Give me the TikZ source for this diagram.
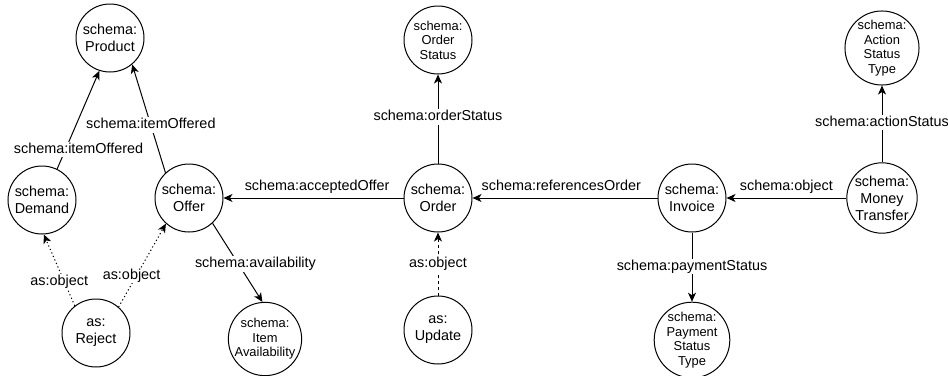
\documentclass[tikz,border=0pt]{standalone}
\usepackage{fontspec}
\setmainfont{Liberation Sans}
\usetikzlibrary{arrows.meta}
\tikzset{
  x=1pt, y=-1pt,
  cls/.style={circle, draw, line width=1pt, minimum size=68pt, inner sep=0pt,
    align=center, font=\fontsize{14.4}{17}\selectfont},
  clsmall/.style={cls, font=\fontsize{12.9}{14.6}\selectfont},
  rel/.style={line width=1pt, -{Stealth[length=9pt, width=8pt, inset=2.5pt]}},
  dotrel/.style={rel, dash pattern=on 1.2pt off 2.6pt},
  dashrel/.style={rel, dash pattern=on 3pt off 3pt},
  lbl/.style={font=\fontsize{14.4}{17}\selectfont, fill=white, inner sep=1pt,
    text height=10.5pt, text depth=3pt},
  lblabove/.style={lbl, fill=none, inner sep=0pt, anchor=south, yshift=4pt},
}
\begin{document}
\begin{tikzpicture}
\useasboundingbox (0,0) rectangle (948,375);

% classes
\node[cls]      (product) at (110,38)  {schema:\\Product};
\node[cls]      (demand)  at (42,200)  {schema:\\Demand};
\node[cls]      (offer)   at (189,198) {schema:\\Offer};
\node[cls]      (reject)  at (96,333)  {as:\\Reject};
\node[clsmall]  (avail)   at (265,339) {schema:\\Item\\Availability};
\node[cls]      (order)   at (438,198) {schema:\\Order};
\node[clsmall]  (ostatus) at (438,40)  {schema:\\Order\\Status};
\node[cls]      (update)  at (438,330) {as:\\Update};
\node[cls]      (invoice) at (692,198) {schema:\\Invoice};
\node[clsmall]  (pstatus) at (692,340) {schema:\\Payment\\Status\\Type};
\node[cls]      (money)   at (882,198) {schema:\\Money\\Transfer};
\node[clsmall]  (astatus) at (882,48)  {schema:\\Action\\Status\\Type};

% properties
\draw[rel] (demand.64) -- node[lbl, pos=0.2, xshift=13pt] (l1) {schema:itemOffered} (product.-108);
\draw[rel] (offer.133) -- node[lbl, pos=0.44] (l2) {schema:itemOffered} (product.-50);
\draw[rel] (order) -- node[lblabove, pos=0.48] (l3) {schema:acceptedOffer} (offer);
\draw[rel] (offer.-47) -- node[lbl, pos=0.52, xshift=17pt] (l4) {schema:availability} (avail.94);
\draw[dotrel] (reject.128) -- node[lbl, pos=0.34, xshift=-5pt] (l5) {as:object} (demand.-87);
\draw[dotrel] (reject.49) -- node[lbl, pos=0.38, xshift=-5pt] (l6) {as:object} (offer.228);
\draw[rel] (order) -- node[lbl, pos=0.52] (l7) {schema:orderStatus} (ostatus);
\draw[dashrel] (update) -- node[lbl, pos=0.5] (l8) {as:object} (order);
\draw[rel] (invoice) -- node[lblabove, pos=0.52] (l9) {schema:referencesOrder} (order);
\draw[rel] (invoice) -- node[lbl, pos=0.49] (l10) {schema:paymentStatus} (pstatus);
\draw[rel] (money) -- node[lblabove, pos=0.5] (l11) {schema:object} (invoice);
\draw[rel] (money) -- node[lbl, pos=0.52] (l12) {schema:actionStatus} (astatus);
\end{tikzpicture}
\end{document}
